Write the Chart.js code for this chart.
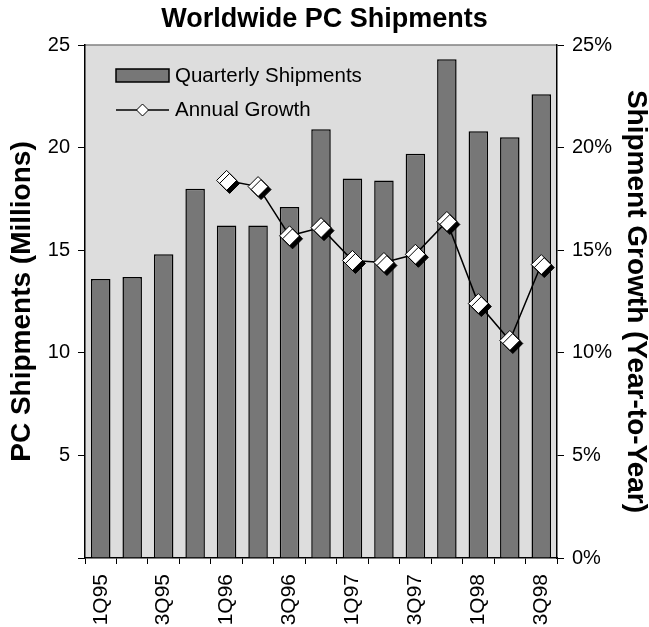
<!DOCTYPE html>
<html>
<head>
<meta charset="utf-8">
<script src="https://cdn.jsdelivr.net/npm/chart.js@4/dist/chart.umd.min.js"></script>
<style>
  html, body { margin: 0; padding: 0; background: #fff; }
  #wrap { width: 649px; height: 627px; }
</style>
</head>
<body>
<div id="wrap"><canvas id="chart" width="649" height="627"></canvas></div>
<script>
const quarters = ['1Q95', '2Q95', '3Q95', '4Q95', '1Q96', '2Q96', '3Q96', '4Q96',
                  '1Q97', '2Q97', '3Q97', '4Q97', '1Q98', '2Q98', '3Q98'];
// millions of units per quarter
const shipments = [13.6, 13.7, 14.8, 18.0, 16.2, 16.2, 17.1, 20.9,
                   18.5, 18.4, 19.7, 24.3, 20.8, 20.5, 22.6];
// year-over-year growth, percent (no prior year for 1995)
const growthPct = [null, null, null, null, 18.4, 18.1, 15.7, 16.1,
                   14.5, 14.4, 14.8, 16.4, 12.4, 10.6, 14.3];
const shipmentTicks = [0, 5, 10, 15, 20, 25];
const growthTicks = [0, 5, 10, 15, 20, 25];

const FONT = 'Liberation Sans, Arial, Helvetica, sans-serif';
const tickFont = { family: FONT, size: 20 };

// grey plot background with a thin top border
const plotBackground = {
  id: 'plotBackground',
  beforeDraw(chart) {
    const { ctx, chartArea: a } = chart;
    ctx.save();
    ctx.fillStyle = '#dddddd';
    ctx.fillRect(a.left, a.top, a.right - a.left, a.bottom - a.top);
    ctx.strokeStyle = '#808080';
    ctx.lineWidth = 1.5;
    ctx.beginPath();
    ctx.moveTo(a.left, a.top);
    ctx.lineTo(a.right, a.top);
    ctx.stroke();
    ctx.restore();
  }
};

// black drop shadow behind the growth markers
const markerShadow = {
  id: 'markerShadow',
  beforeDatasetDraw(chart, args) {
    if (args.index !== 2) return;
    const ctx = chart.ctx;
    ctx.save();
    ctx.shadowColor = '#000';
    ctx.shadowOffsetX = 3;
    ctx.shadowOffsetY = 3;
    ctx.shadowBlur = 0;
  },
  afterDatasetDraw(chart, args) {
    if (args.index === 2) chart.ctx.restore();
  }
};

// legend sits inside the plot, top-left
const insideLegend = {
  id: 'insideLegend',
  afterDatasetsDraw(chart) {
    const { ctx, chartArea: a } = chart;
    const x0 = a.left + 31, w = 53;
    ctx.save();
    ctx.fillStyle = '#777777';
    ctx.strokeStyle = '#000';
    ctx.lineWidth = 1.5;
    ctx.fillRect(x0, a.top + 24, w, 13);
    ctx.strokeRect(x0, a.top + 24, w, 13);

    const ly = a.top + 65;
    ctx.lineWidth = 1.5;
    ctx.beginPath();
    ctx.moveTo(x0, ly);
    ctx.lineTo(x0 + w, ly);
    ctx.stroke();
    const cx = x0 + w / 2, r = 6;
    ctx.beginPath();
    ctx.moveTo(cx - r, ly);
    ctx.lineTo(cx, ly - r);
    ctx.lineTo(cx + r, ly);
    ctx.lineTo(cx, ly + r);
    ctx.closePath();
    ctx.fillStyle = '#fff';
    ctx.fill();
    ctx.lineWidth = 1;
    ctx.stroke();

    ctx.fillStyle = '#000';
    ctx.font = '20.5px ' + FONT;
    ctx.textBaseline = 'middle';
    ctx.textAlign = 'left';
    ctx.fillText(chart.data.datasets[0].label, x0 + w + 6, a.top + 31);
    ctx.fillText(chart.data.datasets[1].label, x0 + w + 6, ly);
    ctx.restore();
  }
};

new Chart(document.getElementById('chart'), {
  type: 'bar',
  data: {
    labels: quarters,
    datasets: [{
      label: 'Quarterly Shipments',
      data: shipments,
      yAxisID: 'y',
      backgroundColor: '#777777',
      borderColor: '#000',
      borderWidth: 1.5,
      barPercentage: 0.62,
      categoryPercentage: 1.0,
      order: 3
    }, {
      type: 'line',
      label: 'Annual Growth',
      data: growthPct,
      yAxisID: 'y1',
      borderColor: '#000',
      borderWidth: 1.5,
      pointRadius: 0,
      fill: false,
      order: 2
    }, {
      type: 'line',
      label: 'Annual Growth markers',
      data: growthPct,
      yAxisID: 'y1',
      showLine: false,
      pointStyle: 'rectRot',
      pointRadius: 10,
      pointBackgroundColor: '#fff',
      pointBorderColor: '#000',
      pointBorderWidth: 1,
      order: 1
    }]
  },
  options: {
    responsive: false,
    animation: false,
    layout: { padding: 0 },
    plugins: {
      legend: { display: false },
      tooltip: { enabled: false },
      title: {
        display: true,
        text: 'Worldwide PC Shipments',
        color: '#000',
        font: { family: FONT, size: 27, weight: 'bold', lineHeight: 1.2 },
        padding: { top: 3, bottom: 9.6 }
      }
    },
    scales: {
      x: {
        offset: true,
        grid: { offset: true, drawOnChartArea: false, tickLength: 6, color: '#000', lineWidth: 1 },
        border: { color: '#000', width: 1.5 },
        ticks: {
          autoSkip: false, minRotation: 90, maxRotation: 90, padding: 10,
          color: '#000', font: { family: FONT, size: 21 },
          callback: (v, i) => (i % 2 === 0 ? quarters[i] : '')
        },
        afterFit(s) { s.height = 69; }
      },
      y: {
        position: 'left',
        min: 0, max: 25,
        afterBuildTicks(s) { s.ticks = shipmentTicks.map(v => ({ value: v })); },
        ticks: {
          padding: 8, color: '#000', font: tickFont,
          callback: v => (v === 0 ? '' : String(v))
        },
        grid: { drawOnChartArea: false, tickLength: 7, color: '#000' },
        border: { color: '#000', width: 1.5 },
        title: {
          display: true,
          text: 'PC Shipments (Millions)',
          color: '#000',
          font: { family: FONT, size: 28, weight: 'bold', lineHeight: 1 },
          padding: { top: 8, bottom: 0 }
        },
        afterFit(s) { s.width = 85; }
      },
      y1: {
        position: 'right',
        min: 0, max: 25,
        afterBuildTicks(s) { s.ticks = growthTicks.map(v => ({ value: v })); },
        ticks: {
          padding: 8, color: '#000', font: tickFont,
          callback: v => v + '%'
        },
        grid: { drawOnChartArea: false, tickLength: 7, color: '#000' },
        border: { color: '#000', width: 1.5 },
        title: {
          display: true,
          text: 'Shipment Growth (Year-to-Year)',
          color: '#000',
          font: { family: FONT, size: 28, weight: 'bold', lineHeight: 1 },
          padding: { top: -1, bottom: 0 }
        },
        afterFit(s) { s.width = 92; }
      }
    }
  },
  plugins: [plotBackground, markerShadow, insideLegend]
});
</script>
</body>
</html>
